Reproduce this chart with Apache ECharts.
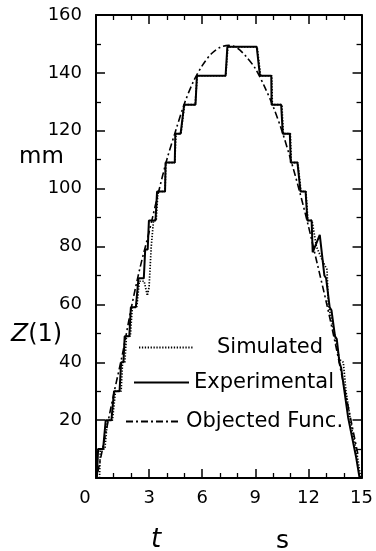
<!DOCTYPE html>
<html>
<head>
<meta charset="utf-8">
<script src="https://cdn.jsdelivr.net/npm/echarts@6/dist/echarts.min.js"></script>
<style>html,body{margin:0;padding:0;background:#fff;}#c{width:376px;height:551px;}</style>
</head>
<body>
<div id="c"></div>
<script>
// ---- data (t in s, Z(1) in mm) ----
const xTicks = [0, 3, 6, 9, 12, 15];
const yTicks = [0, 20, 40, 60, 80, 100, 120, 140, 160];
const seriesNames = ['Simulated', 'Experimental', 'Objected Func.'];

const simulated = [
  [0.2,0],[0.24,10],[0.5,10],[0.65,20],[0.93,20],[1.1,30],[1.42,30],[1.5,40],[1.63,40],
  [1.72,49],[1.94,49],[2.05,59],[2.3,59],[2.45,68],[2.72,68],[2.9,63],[3.0,66],[3.12,80],
  [3.25,89],[3.4,89],[3.5,99],[3.9,99],[3.95,109],[4.45,109],[4.52,119],[4.8,119],[5.0,129],
  [5.6,129],[5.72,139],[7.33,139],[7.45,149],[9.1,149],[9.3,139],[9.93,139],[9.96,129],
  [10.5,129],[10.58,119],[10.98,119],[11.03,109],[11.4,109],[11.58,99],[11.86,99],[11.97,89],
  [12.2,89],[12.45,80],[12.8,75],[13.05,72],[13.12,60],[13.5,49],[13.75,41],[13.97,40],
  [14.12,30],[14.45,17],[14.78,7],[14.95,0]
];

const experimental = [
  [0.05,0],[0.12,10],[0.40,10],[0.55,20],[0.87,20],[1.02,30],[1.33,30],[1.42,40],[1.55,40],
  [1.62,49],[1.88,49],[1.97,59],[2.25,59],[2.40,69],[2.70,69],[2.78,79],[2.92,79],[2.99,89],
  [3.36,89],[3.45,99],[3.90,99],[3.93,109],[4.45,109],[4.48,119],[4.78,119],[4.98,129],
  [5.62,129],[5.70,139],[7.32,139],[7.42,149],[9.08,149],[9.26,139],[9.90,139],[9.92,129],
  [10.46,129],[10.55,119],[10.95,119],[11.00,109],[11.38,109],[11.55,99],[11.84,99],[11.94,89],
  [12.18,89],[12.24,78],[12.64,84],[12.90,70],[13.00,69],[13.20,59],[13.30,58],[13.50,49],
  [13.60,48],[13.75,40],[13.85,38],[14.24,21],[14.70,7],[14.89,0]
];

const objected = [
  [0.1,2],[0.5,14],[1,29],[1.5,43],[2,59],[2.5,73],[3,85],[3.5,98],[4,110],[4.5,120],
  [5,129.5],[5.5,137],[6,142.5],[6.5,146.5],[7,148.8],[7.5,149.5],[8,148.5],[8.5,145.5],
  [9,141.5],[9.5,135.5],[10,128.5],[10.5,120],[11,110],[11.5,99],[12,87],[12.5,74],
  [13,61],[13.5,47],[14,32],[14.5,17],[14.8,8]
];

const FONT = 'DejaVu Sans';
const chart = echarts.init(document.getElementById('c'), null, {renderer: 'canvas'});

const axisCommon = {
  axisLine: {show: true, onZero: false, lineStyle: {color: '#000', width: 2}},
  axisTick: {show: true, inside: true, length: 9, lineStyle: {color: '#000', width: 1.5}},
  minorTick: {show: true, length: 5, lineStyle: {color: '#000', width: 1.3}},
  splitLine: {show: false}
};

const legendCommon = {
  padding: 0, itemWidth: 55, itemHeight: 14, selectedMode: false,
  itemStyle: {opacity: 0}
};

const option = {
  backgroundColor: '#fff',
  animation: false,
  grid: {left: 96, right: 9, top: 15, bottom: 73, containLabel: false},
  xAxis: [
    Object.assign({}, axisCommon, {
      type: 'value', min: xTicks[0], max: xTicks[xTicks.length - 1], interval: 3,
      position: 'bottom',
      minorTick: Object.assign({}, axisCommon.minorTick, {splitNumber: 3}),
      axisLabel: {
        show: true, margin: 11, color: '#000', fontFamily: FONT, fontSize: 18,
        formatter: v => v === 0 ? '{z|0}' : String(v),
        rich: {z: {fontFamily: FONT, fontSize: 18, color: '#000', padding: [0, 22, 0, 0]}}
      }
    }),
    Object.assign({}, axisCommon, {
      type: 'value', min: xTicks[0], max: xTicks[xTicks.length - 1], interval: 3,
      position: 'top',
      minorTick: Object.assign({}, axisCommon.minorTick, {splitNumber: 3}),
      axisLabel: {show: false}
    })
  ],
  yAxis: [
    Object.assign({}, axisCommon, {
      type: 'value', min: yTicks[0], max: yTicks[yTicks.length - 1], interval: 20,
      position: 'left',
      minorTick: Object.assign({}, axisCommon.minorTick, {splitNumber: 2}),
      axisLabel: {
        show: true, margin: 14, color: '#000', fontFamily: FONT, fontSize: 18,
        formatter: v => v === 0 ? '' : String(v)
      }
    }),
    Object.assign({}, axisCommon, {
      type: 'value', min: yTicks[0], max: yTicks[yTicks.length - 1], interval: 20,
      position: 'right',
      minorTick: Object.assign({}, axisCommon.minorTick, {splitNumber: 2}),
      axisLabel: {show: false}
    })
  ],
  legend: [
    Object.assign({}, legendCommon, {data: [seriesNames[0]], left: 138, top: 337,
      textStyle: {fontFamily: FONT, fontSize: 21, color: '#000', padding: [0, 0, 0, 18]}}),
    Object.assign({}, legendCommon, {data: [seriesNames[1]], left: 133, top: 372,
      textStyle: {fontFamily: FONT, fontSize: 21, color: '#000'}}),
    Object.assign({}, legendCommon, {data: [seriesNames[2]], left: 125, top: 411,
      textStyle: {fontFamily: FONT, fontSize: 21, color: '#000'}})
  ],
  series: [
    {name: seriesNames[0], type: 'line', data: simulated, symbol: 'none', z: 2,
     lineStyle: {color: '#000', width: 1.7, type: [1.3, 1.6]}, itemStyle: {color: '#000'}},
    {name: seriesNames[1], type: 'line', data: experimental, symbol: 'none', z: 3,
     lineStyle: {color: '#000', width: 2}, itemStyle: {color: '#000'}},
    {name: seriesNames[2], type: 'line', data: objected, symbol: 'none', smooth: 0.3, z: 1,
     lineStyle: {color: '#000', width: 1.6, type: [7, 3, 2, 3]}, itemStyle: {color: '#000'}}
  ],
  graphic: [
    {type: 'text', left: 19, top: 146, style: {text: 'mm', fontFamily: FONT, fontSize: 23, fill: '#000'}},
    {type: 'text', left: 11, top: 322, style: {
      text: '{i|Z}(1)', fontFamily: FONT, fontSize: 24, fill: '#000',
      rich: {i: {fontFamily: FONT, fontSize: 25, fontStyle: 'italic', fill: '#000'}}
    }},
    {type: 'text', left: 151, top: 527, style: {text: 't', fontFamily: FONT, fontSize: 26, fontStyle: 'italic', fill: '#000'}},
    {type: 'text', left: 276, top: 529, style: {text: 's', fontFamily: FONT, fontSize: 25, fill: '#000'}}
  ]
};
chart.setOption(option);
</script>
</body>
</html>
